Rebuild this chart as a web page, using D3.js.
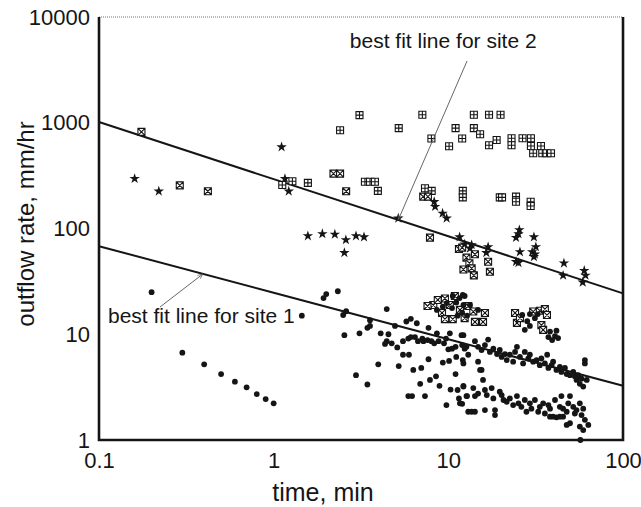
<!doctype html>
<html lang="en">
<head>
<meta charset="utf-8">
<title>Outflow rate versus time</title>
<script src="https://cdn.jsdelivr.net/npm/d3@7"></script>
<style>
  body { margin: 0; background: #fff; }
  svg { display: block; font-family: "Liberation Sans", Arial, Helvetica, sans-serif; }
</style>
</head>
<body>
<div id="chart"></div>
<script>
// [time (min), outflow rate (mm/hr)]

// site 2, square-with-plus markers
const site2Plus = [
  [1.12, 258], [1.28, 280], [1.57, 270], [2.4, 850], [3.1, 1180], [5.2, 890],
  [7.1, 1190], [8.0, 710], [10.1, 600], [11, 890], [12, 710], [14, 1190], [14, 890],
  [3.33, 277], [3.56, 277], [3.8, 277], [3.95, 227], [7.35, 240], [8.03, 227],
  [12.1, 227], [12.1, 197], [17.1, 1190], [19.9, 1190], [15.2, 778], [17.1, 612],
  [18.9, 687], [23, 713], [23, 612], [26.6, 713], [29.7, 713], [29.7, 603],
  [33.9, 603], [30.6, 514], [34.5, 514], [36.5, 514], [38.7, 514],
  [19.7, 197], [20.3, 197], [24.4, 200], [24.4, 179], [29.6, 179], [29.6, 163]
];

// site 2, square-with-cross markers
const site2Cross = [
  [0.175, 820], [0.29, 256], [0.42, 225], [2.2, 330], [2.4, 330], [2.6, 225],
  [7.18, 200], [7.64, 200], [7.85, 82], [11.5, 64], [12.0, 66], [12.7, 53], [14.2, 57],
  [13.2, 47], [12.2, 41], [13.6, 42], [14, 36], [16.9, 48.5], [17.3, 39],
  [8.2, 18.9], [8.7, 21.1], [9.56, 21.8], [9.2, 15.9], [9.56, 13.9], [10.6, 13.9],
  [10.9, 23], [13.0, 18.5], [13.9, 16.4], [14.2, 13.1], [15.8, 13.1], [16.2, 15.9],
  [7.6, 18.5], [11.65, 17], [10.2, 18.9], [12.4, 14.2],
  [24.1, 15.9], [24.7, 12.8], [30.6, 16.4], [33.4, 16.7], [35.7, 17.3], [36.7, 15.2],
  [34.1, 12.2], [34.9, 11.0], [25.7, 14.2]
];

// site 2, star markers
const site2Star = [
  [0.16, 296], [0.22, 225], [1.11, 590], [1.16, 296], [1.22, 225], [1.57, 85],
  [1.9, 89], [2.24, 88], [2.59, 78], [2.96, 85], [3.29, 83], [2.54, 59], [5.17, 125],
  [8.3, 179], [8.4, 161], [9.27, 139], [9.78, 125], [11.6, 83], [12.4, 71], [13.3, 65],
  [13.6, 70], [16.9, 67], [16.5, 59], [25.5, 97], [25.2, 89], [24.4, 82], [25.7, 60],
  [25.2, 47.5], [24.4, 48.5], [30.9, 83], [31.7, 67], [30.2, 60], [30.9, 54],
  [31.3, 57], [45.9, 47], [45.4, 36], [60, 40], [58.8, 31], [61, 36]
];

// site 1, dots
const site1Dot = [
  [0.2, 25], [0.3, 6.7], [0.4, 5.2], [0.5, 4.2], [0.6, 3.56], [0.7, 3.15], [0.8, 2.72],
  [0.9, 2.44], [1.0, 2.22], [1.45, 15],
  [2.0, 24], [1.93, 22], [2.33, 25.5], [2.5, 15.2], [2.6, 16.5], [2.54, 9.8], [3.1, 10.2],
  [2.96, 4.1], [3.44, 3.35], [3.56, 13.6], [3.44, 11.5], [3.56, 12], [3.97, 5.2],
  [4.1, 10.2], [4.44, 17.3], [4.54, 10], [4.44, 8.6], [4.34, 8.1], [4.74, 8.2], [4.95, 12],
  [5.1, 7.5], [5.2, 5.0], [5.5, 6.4], [5.5, 8.6], [5.75, 13.2], [5.9, 9.1], [5.95, 6.4],
  [5.9, 2.6], [6.1, 14], [6.1, 9.4], [6.2, 2.6], [6.3, 4.6], [6.44, 9.4], [6.6, 12.7],
  [6.7, 8.6], [7.0, 4.8], [7.1, 9.1], [6.9, 3.4], [7.2, 8.6], [7.35, 2.6], [7.6, 8.8],
  [7.7, 11.5], [7.7, 5.8], [7.85, 3.7], [8.0, 8.6], [8.3, 8.2], [8.5, 4.0], [8.6, 10.2],
  [8.8, 8.6], [8.9, 3.25], [9.3, 5.4], [9.45, 8.2], [9.7, 9.1], [9.75, 2.14], [10.0, 7.2],
  [10.1, 5.6], [10.2, 10.2], [10.3, 3.0], [10.5, 7.3], [11.0, 7.6], [11.0, 4.2],
  [11.1, 6.1], [11.3, 2.97], [11.5, 2.47], [11.9, 9.8], [12.0, 7.9], [12.0, 2.2],
  [12.1, 5.7], [12.2, 3.2], [12.4, 7.3], [12.8, 2.6], [13.0, 1.85], [13.0, 6.4],
  [12.2, 9.8], [12.7, 7.6], [14.2, 8.6], [14.8, 7.6], [15.5, 7.1], [16.2, 7.9],
  [16.9, 8.9], [17.3, 6.8], [18.1, 7.3], [19.0, 6.5], [19.7, 7.1], [20.2, 6.1],
  [21.1, 6.5], [21.6, 5.7], [22.5, 6.4], [23.5, 5.5], [24.1, 6.8], [24.7, 7.6],
  [25.7, 6.1], [26.8, 5.3], [27.4, 6.8], [28.7, 5.9], [29.3, 6.4], [30.6, 5.5],
  [32.0, 5.7], [33.4, 5.1], [34.1, 5.9], [35.7, 5.3], [36.8, 6.4], [37.4, 4.8],
  [39.0, 5.1], [39.8, 5.5], [41.6, 4.6], [43.5, 4.9], [44.4, 4.4], [46.5, 4.8],
  [47.6, 4.2], [49.7, 4.1], [51.9, 4.4], [53.0, 4.0], [54.2, 3.7], [55.4, 4.1],
  [57.9, 3.8], [59.2, 3.2], [62, 3.7], [56.6, 3.4], [60.5, 5.7], [60.5, 5.3],
  [12.2, 3.25], [13.9, 3.1], [12.7, 2.6], [14.2, 2.6], [14.8, 2.75], [15.8, 3.7],
  [16.2, 2.97], [15.5, 4.6], [16.6, 2.66], [17.7, 3.1], [18.1, 2.47], [19.7, 2.86],
  [20.2, 2.66], [20.7, 2.39], [21.6, 2.3], [22.5, 2.47], [23.5, 2.14], [24.7, 2.6],
  [25.2, 2.22], [26.2, 2.06], [27.4, 2.39], [28.0, 1.85], [29.3, 2.22], [29.9, 1.98],
  [31.3, 2.39], [32.7, 1.85], [33.4, 2.06], [34.9, 2.22], [35.7, 1.78], [37.4, 2.14],
  [38.2, 1.98], [40.8, 2.39], [43.5, 2.06], [44.4, 2.6], [45.4, 1.98], [47.6, 1.85],
  [48.6, 2.22], [49.7, 2.6], [51.9, 2.06], [53.0, 1.78], [54.2, 1.92], [56.6, 2.22],
  [57.9, 1.72], [59.2, 1.98], [60.5, 1.55], [56.6, 1.34], [59.2, 1.24], [63.3, 1.39],
  [49.7, 1.44], [47.6, 1.39], [38.2, 1.66], [41.6, 1.64], [45.4, 1.66], [43.5, 1.66],
  [39.8, 1.66], [11.65, 2.22], [13.6, 1.85], [14.2, 1.85], [16.2, 1.92], [18.5, 1.92],
  [18.5, 1.72], [15.2, 4.6], [14.8, 5.5], [12.2, 5.3], [57, 1.0],
  [12.4, 23], [12.2, 18.9], [10.6, 23], [11.6, 22], [12.1, 23.5],
  [9.8, 19.7], [10.5, 17.7], [11.1, 20], [12, 16], [13.3, 18.9], [14.8, 17], [8.6, 17],
  [9.3, 18.2], [11.3, 15], [12.8, 15],
  [26.5, 15.2], [28.3, 13.3], [27.4, 11.0], [29.3, 15.5], [31.3, 14.2], [29.3, 12],
  [32.5, 15.5], [38.2, 10.6], [40.8, 9.6], [42.5, 9.2], [39.3, 8.8], [37.4, 9.4], [41.6, 10.8]
];

// power-law best fits: rate = coef * time^slope
const fitNames = ['site 1', 'site 2'];
const fitCoef = [24.7, 293];
const fitSlope = [-0.44, -0.54];

const xTicks = [0.1, 1, 10, 100];
const yTicks = [1, 10, 100, 1000, 10000];

const width = 641, height = 507;
const margin = {top: 17, right: 18, bottom: 67, left: 99};
const ink = '#151515';

const svg = d3.select('#chart').append('svg')
    .attr('width', width)
    .attr('height', height);

const x = d3.scaleLog().domain([0.1, 100]).range([margin.left, width - margin.right]);
const y = d3.scaleLog().domain([1, 10000]).range([height - margin.bottom, margin.top]);

// tick labels only, no tick marks
const xAxis = svg.append('g')
    .attr('transform', 'translate(0,' + y(1) + ')')
    .call(d3.axisBottom(x).tickValues(xTicks).tickSize(0).tickPadding(12)
        .tickFormat(d => d < 1 ? '0.1' : d3.format('d')(d)));
const yAxis = svg.append('g')
    .attr('transform', 'translate(' + x(0.1) + ',0)')
    .call(d3.axisLeft(y).tickValues(yTicks).tickSize(0).tickPadding(9)
        .tickFormat(d3.format('d')));
[xAxis, yAxis].forEach(a => {
  a.select('.domain').remove();
  a.selectAll('text')
      .style('font-size', '22px')
      .style('font-family', '"Liberation Sans", Arial, sans-serif')
      .attr('fill', ink);
});

// frame
svg.append('line')
    .attr('x1', x(0.1)).attr('x2', x(100)).attr('y1', y(10000)).attr('y2', y(10000))
    .attr('stroke', '#777').attr('stroke-width', 1).attr('stroke-dasharray', '1,1');
svg.append('path')
    .attr('d', 'M' + x(0.1) + ',' + y(10000) + 'V' + y(1) + 'H' + x(100) + 'V' + y(10000))
    .attr('fill', 'none').attr('stroke', ink).attr('stroke-width', 2.6);

// fit lines
const fitData = fitNames.map((n, i) => xTicks.map(t => [t, fitCoef[i] * Math.pow(t, fitSlope[i])]));
svg.selectAll('path.fit')
    .data(fitData)
    .join('path')
    .attr('class', 'fit')
    .attr('d', d3.line().x(d => x(d[0])).y(d => y(d[1])))
    .attr('fill', 'none')
    .attr('stroke', ink)
    .attr('stroke-width', 2);

// markers
const boxSize = 7;
function boxPath(cx, cy, cross) {
  const h = boxSize / 2;
  let p = 'M' + (cx - h) + ',' + (cy - h) + 'h' + boxSize + 'v' + boxSize + 'h' + (-boxSize) + 'Z';
  if (cross) {
    p += 'M' + (cx - h) + ',' + (cy - h) + 'L' + (cx + h) + ',' + (cy + h);
    p += 'M' + (cx + h) + ',' + (cy - h) + 'L' + (cx - h) + ',' + (cy + h);
  } else {
    p += 'M' + cx + ',' + (cy - h) + 'V' + (cy + h);
    p += 'M' + (cx - h) + ',' + cy + 'H' + (cx + h);
  }
  return p;
}

svg.append('g').selectAll('path')
    .data(site2Plus)
    .join('path')
    .attr('d', d => boxPath(x(d[0]), y(d[1]), false))
    .attr('fill', '#fff').attr('stroke', ink).attr('stroke-width', 1.1);

svg.append('g').selectAll('path')
    .data(site2Cross)
    .join('path')
    .attr('d', d => boxPath(x(d[0]), y(d[1]), true))
    .attr('fill', '#fff').attr('stroke', ink).attr('stroke-width', 1.1);

const star = d3.symbol().type(d3.symbolStar).size(34);
svg.append('g').selectAll('path')
    .data(site2Star)
    .join('path')
    .attr('transform', d => 'translate(' + x(d[0]) + ',' + y(d[1]) + ')')
    .attr('d', star)
    .attr('fill', ink);

svg.append('g').selectAll('circle')
    .data(site1Dot)
    .join('circle')
    .attr('cx', d => x(d[0]))
    .attr('cy', d => y(d[1]))
    .attr('r', 2.9)
    .attr('fill', ink);

// annotations: text anchor, arrow start, arrow tip (time on fit line)
const notes = [
  {text: 'best fit line for site 2', tx: 2.73, ty: 5090, from: [12.8, 3840], tipT: 5.17, fit: 1},
  {text: 'best fit line for site 1', tx: 0.1126, ty: 12.8, from: [0.2235, 18.1], tipT: 0.394, fit: 0}
];

svg.append('defs').append('marker')
    .attr('id', 'head')
    .attr('viewBox', '0 0 10 10')
    .attr('refX', 10).attr('refY', 5)
    .attr('markerWidth', 6).attr('markerHeight', 6)
    .attr('orient', 'auto')
    .append('path')
    .attr('d', 'M0,1L10,5L0,9')
    .attr('fill', 'none')
    .attr('stroke', '#555')
    .attr('stroke-width', 1.2);

notes.forEach(n => {
  const tipR = fitCoef[n.fit] * Math.pow(n.tipT, fitSlope[n.fit]);
  svg.append('line')
      .attr('x1', x(n.from[0])).attr('y1', y(n.from[1]))
      .attr('x2', x(n.tipT)).attr('y2', y(tipR))
      .attr('stroke', '#555').attr('stroke-width', 0.9)
      .attr('marker-end', 'url(#head)');
  svg.append('text')
      .attr('x', x(n.tx)).attr('y', y(n.ty))
      .style('font-size', '21px')
      .attr('fill', ink)
      .text(n.text);
});

// axis titles
svg.append('text')
    .attr('x', 323).attr('y', 501)
    .attr('text-anchor', 'middle')
    .style('font-size', '25px')
    .attr('fill', ink)
    .text('time, min');

svg.append('text')
    .attr('transform', 'translate(34,224) rotate(-90)')
    .attr('text-anchor', 'middle')
    .style('font-size', '24px')
    .attr('fill', ink)
    .text('outflow rate, mm/hr');
</script>
</body>
</html>
